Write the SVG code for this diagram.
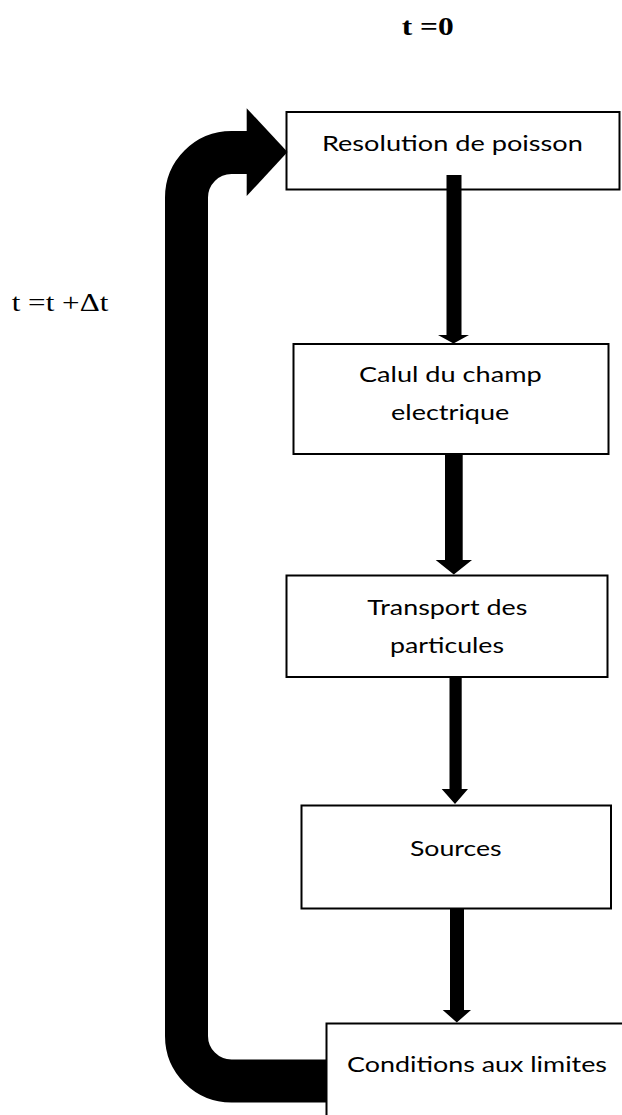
<svg xmlns="http://www.w3.org/2000/svg" width="622" height="1115" viewBox="0 0 622 1115">
<style>
.box{fill:#fff;stroke:#000;stroke-width:2}
.lbl{font-family:Lato,"Open Sans","Liberation Sans",sans-serif;font-size:22px;fill:#000;text-anchor:middle}
.tm{font-family:"Liberation Serif","Times New Roman",serif;font-size:26px;fill:#000}
.arr{fill:#000}
</style>
<rect width="622" height="1115" fill="#fff"/>
<text class="tm" x="401.7" y="35" font-weight="bold" textLength="52" lengthAdjust="spacingAndGlyphs">t =0</text>
<text class="tm" x="11.7" y="310.7" textLength="96.6" lengthAdjust="spacingAndGlyphs">t =t +Δt</text>
<g id="n1"><rect class="box" x="286.5" y="112" width="333" height="77.5"/><text class="lbl" x="452.4" y="150.5" textLength="261" lengthAdjust="spacingAndGlyphs">Resolution de poisson</text></g>
<g id="n2"><rect class="box" x="293.5" y="344" width="315" height="110"/><text class="lbl" x="450.3" y="382.3" textLength="182.7" lengthAdjust="spacingAndGlyphs">Calul du champ</text><text class="lbl" x="450.2" y="420" textLength="118.3" lengthAdjust="spacingAndGlyphs">electrique</text></g>
<g id="n3"><rect class="box" x="286.5" y="575.5" width="321" height="101.5"/><text class="lbl" x="447.3" y="615" textLength="160" lengthAdjust="spacingAndGlyphs">Transport des</text><text class="lbl" x="447" y="653.3" textLength="114" lengthAdjust="spacingAndGlyphs">particules</text></g>
<g id="n4"><rect class="box" x="301.5" y="805.5" width="309.5" height="103"/><text class="lbl" x="455.8" y="856" textLength="91.7" lengthAdjust="spacingAndGlyphs">Sources</text></g>
<g id="n5"><rect class="box" x="326.5" y="1023.5" width="310" height="110"/><text class="lbl" x="477" y="1071.7" textLength="260" lengthAdjust="spacingAndGlyphs">Conditions aux limites</text></g>
<g id="connectors">
<polygon class="arr" points="446.5,175 461.5,175 461.5,335 469,335 453.5,343.5 438,335 446.5,335"/>
<polygon class="arr" points="445,454 462.7,454 462.7,560 472,560 453.8,574.5 435.7,560 445,560"/>
<polygon class="arr" points="449.5,677 461.7,677 461.7,789 468,789 455,804 441.7,789 449.5,789"/>
<polygon class="arr" points="450,909 464,909 464,1010 471,1010 456.8,1022.5 442.7,1010 450,1010"/>
<path d="M327 1081 H231.5 A45 45 0 0 1 186.5 1036 V197.5 A45 45 0 0 1 231.5 152.5 H248" fill="none" stroke="#000" stroke-width="43"/>
<polygon class="arr" points="246.7,108.3 287.5,152 246.7,196"/>
</g>
</svg>
